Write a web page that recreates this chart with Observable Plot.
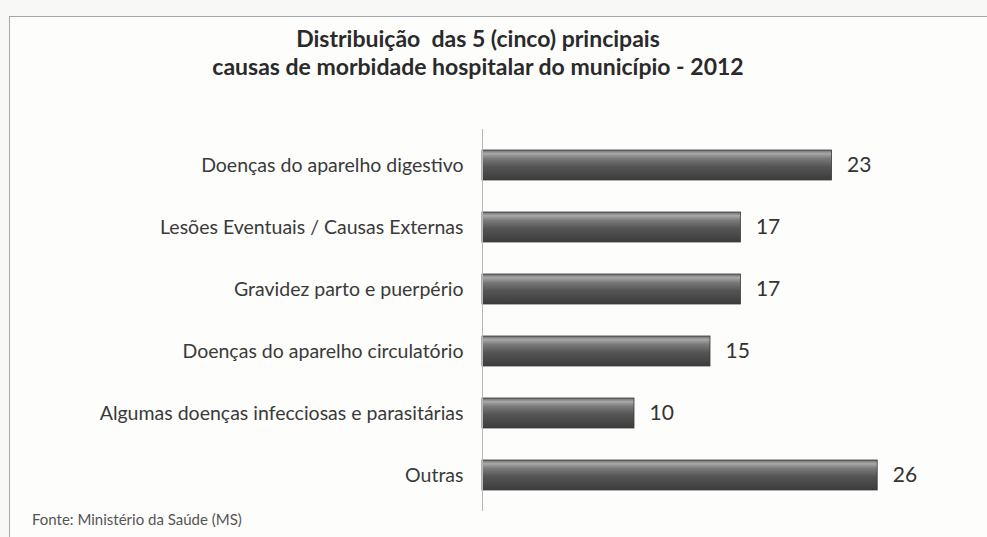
<!DOCTYPE html>
<html>
<head>
<meta charset="utf-8">
<script src="https://cdn.jsdelivr.net/npm/d3@7"></script>
<script src="https://cdn.jsdelivr.net/npm/@observablehq/plot@0.6"></script>
<style>
  html, body { margin: 0; padding: 0; background: #f8f8f6; }
  body { width: 987px; height: 537px; position: relative; overflow: hidden; font-family: Lato, "Open Sans", sans-serif; }
  #frame { position: absolute; left: 9px; top: 16px; width: 1000px; height: 540px; border-left: 1.5px solid #a3a6ab; border-top: 1.5px solid #a3a6ab; background: #fdfdfc; }
  #title { position: absolute; left: 0; top: 24px; width: 956px; text-align: center; font-weight: bold; font-size: 23px; line-height: 28px; color: #2a2a2a; white-space: pre; }
  #chart { position: absolute; left: 0; top: 105px; }
  #source { position: absolute; left: 32px; top: 510px; font-size: 15px; color: #555; }
</style>
</head>
<body>
<div id="frame"></div>
<div id="title">Distribuição  das 5 (cinco) principais
causas de morbidade hospitalar do município - 2012</div>
<div id="chart"></div>
<div id="source">Fonte: Ministério da Saúde (MS)</div>
<script>
const categories = [
  "Doenças do aparelho digestivo",
  "Lesões Eventuais / Causas Externas",
  "Gravidez parto e puerpério",
  "Doenças do aparelho circulatório",
  "Algumas doenças infecciosas e parasitárias",
  "Outras"
];
const values = [23, 17, 17, 15, 10, 26];

const data = categories.map((c, i) => ({category: c, value: values[i]}));

const chart = Plot.plot({
  width: 987,
  height: 432,
  marginLeft: 482,
  marginRight: 49,
  marginTop: 24,
  marginBottom: 26,
  style: {fontFamily: "Lato, 'Open Sans', sans-serif", background: "transparent", overflow: "visible"},
  x: {domain: [0, 30], axis: null},
  y: {domain: categories, paddingInner: 0.52, paddingOuter: 0.3, label: null, axis: null},
  marks: [
    Plot.barX(data, {y: "category", x: "value", fill: "url(#barGrad)", stroke: "#3a3a3a", strokeWidth: 0.8}),
    Plot.ruleX([0], {stroke: "#b8b8b8", strokeWidth: 1}),
    Plot.axisY({tickSize: 0, tickPadding: 19, fontSize: 19.5, fill: "#3a3a3a", label: null}),
    Plot.text(data, {y: "category", x: "value", text: d => String(d.value), dx: 15, textAnchor: "start", fontSize: 21, fill: "#333"})
  ]
});

const ns = "http://www.w3.org/2000/svg";
const defs = document.createElementNS(ns, "defs");
defs.innerHTML = `
  <linearGradient id="barGrad" x1="0" y1="0" x2="0" y2="1">
    <stop offset="0" stop-color="#6a6a6a"/>
    <stop offset="0.12" stop-color="#a8a8a8"/>
    <stop offset="0.28" stop-color="#7a7a7a"/>
    <stop offset="0.55" stop-color="#555555"/>
    <stop offset="1" stop-color="#3c3c3c"/>
  </linearGradient>`;
chart.insertBefore(defs, chart.firstChild);
document.getElementById("chart").appendChild(chart);
</script>
</body>
</html>
